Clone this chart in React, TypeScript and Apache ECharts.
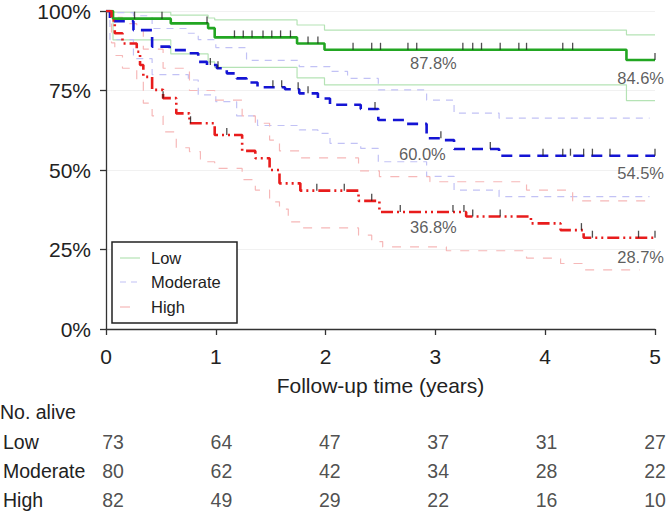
import React, { useEffect, useRef } from 'react';
import * as echarts from 'echarts';

// ---- Data ----
const years = [0, 1, 2, 3, 4, 5];
const groups = ['Low', 'Moderate', 'High'];
const atRiskLow = [73, 64, 47, 37, 31, 27];
const atRiskModerate = [80, 62, 42, 34, 28, 22];
const atRiskHigh = [82, 49, 29, 22, 16, 10];

// Kaplan-Meier steps [time (years), survival %]
const lowSurv = [[0, 100], [0.064, 97.6], [0.59, 96.1], [0.93, 94.6], [0.99, 91.7], [1.74, 89.8], [1.99, 87.8], [4.74, 84.6], [5, 84.6]];
const lowUpper = [[0, 100], [0.064, 99.6], [0.59, 98.7], [0.93, 97.8], [0.99, 97.2], [1.74, 95.6], [1.99, 94], [4.74, 92.5], [5, 92.5]];
const lowLower = [[0, 100], [0.064, 90.9], [0.59, 86.5], [0.93, 84], [0.99, 82.3], [1.74, 79], [1.99, 76.8], [4.74, 71.8], [5, 71.8]];

const modSurv = [[0, 100], [0.036, 96.8], [0.25, 94], [0.42, 88.8], [0.58, 87.7], [0.75, 86.7], [0.84, 84], [0.92, 83], [1.01, 82], [1.1, 80.4], [1.19, 78.8], [1.28, 77.5], [1.38, 76], [1.63, 75.4], [1.76, 74.1], [1.93, 72.5], [2.04, 70.5], [2.32, 69.2], [2.48, 65.7], [2.72, 64.5], [2.92, 60.0], [3.07, 59.4], [3.17, 56.6], [3.58, 54.5], [5, 54.5]];
const modUpper = [[0, 100], [0.036, 99.5], [0.25, 98.5], [0.42, 94.5], [0.75, 93], [0.84, 91], [1.0, 88.5], [1.28, 84.5], [1.76, 82.5], [2.04, 81], [2.2, 78.8], [2.48, 75.2], [2.92, 72], [3.17, 67.9], [3.58, 66.3], [4.95, 66.3]];
const modLower = [[0, 100], [0.036, 91], [0.25, 85], [0.42, 80], [0.75, 78.3], [0.84, 73.6], [1.0, 71.5], [1.19, 67], [1.38, 64], [1.76, 62.6], [1.93, 61.5], [2.04, 58.4], [2.32, 56.8], [2.48, 52.6], [2.92, 48], [3.17, 43.7], [3.58, 41.6], [4.95, 41.6]];

const highSurv = [[0, 100], [0.05, 97], [0.08, 93], [0.15, 89.8], [0.28, 87.2], [0.31, 83], [0.34, 79.3], [0.42, 75.2], [0.52, 72.6], [0.64, 67.8], [0.76, 64.7], [0.99, 61], [1.24, 56], [1.36, 53.7], [1.49, 50], [1.58, 45.8], [1.77, 43.5], [2.3, 40.3], [2.49, 36.8], [3.28, 35.4], [3.87, 33.2], [4.14, 31.1], [4.35, 28.7], [5, 28.7]];
const highUpper = [[0, 100], [0.05, 99.5], [0.08, 98], [0.15, 96], [0.28, 94], [0.34, 88], [0.52, 82], [0.76, 75], [0.99, 72], [1.24, 67], [1.36, 64.7], [1.49, 59.4], [1.58, 56], [1.77, 53.8], [2.3, 49.7], [2.49, 47.9], [2.95, 46.3], [3.83, 43.7], [4.25, 40.3], [4.95, 40.3]];
const highLower = [[0, 100], [0.05, 90], [0.08, 86], [0.15, 82], [0.28, 78], [0.34, 71], [0.42, 67], [0.52, 62], [0.64, 57], [0.76, 55.8], [0.86, 52.6], [0.99, 50.5], [1.24, 47], [1.36, 43.7], [1.49, 40], [1.58, 37.7], [1.66, 33.7], [1.77, 31.8], [2.3, 29.5], [2.42, 27.5], [2.52, 25.8], [3.1, 24.6], [3.83, 22.3], [4.14, 20.6], [4.35, 18.6], [4.86, 18.6]];

// Censoring times (years)
const censorLow = [0.26, 0.51, 0.92, 1.17, 1.25, 1.33, 1.43, 1.51, 1.59, 1.68, 1.84, 1.93, 2.25, 2.42, 2.5, 2.75, 2.83, 3.25, 3.34, 3.42, 3.59, 3.76, 3.83, 4.16, 4.25, 5.0];
const censorModerate = [0.95, 1.02, 1.52, 1.6, 1.75, 1.84, 2.45, 3.05, 3.5, 3.98, 4.16, 4.23, 4.35, 4.43, 4.59, 5.0];
const censorHigh = [0.52, 0.77, 1.1, 1.92, 2.17, 2.42, 2.68, 3.16, 3.26, 3.34, 3.59, 4.33, 4.43, 4.85, 5.0];

// Annotated survival at 3 and 5 years (%)
const survAt3 = [87.8, 60.0, 36.8];
const survAt5 = [84.6, 54.5, 28.7];

const FONT = 'Liberation Sans, Arial, Helvetica, sans-serif';
const TXT = '#222';

function stepAt(curve: number[][], t: number) {
  let v = curve[0][1];
  for (const p of curve) {
    if (p[0] <= t + 1e-9) v = p[1];
  }
  return v;
}

export default function App() {
  const ref = useRef<HTMLDivElement>(null);
  useEffect(() => {
    if (!ref.current) return;
    const chart = echarts.init(ref.current, null, { renderer: 'svg' });

    const mainColors = ['#22a622', '#1414d4', '#e81c1c'];
    const ciColors = ['#b5e3b5', '#c2c2f5', '#f6b8b8'];
    const mains = [lowSurv, modSurv, highSurv];
    const uppers = [lowUpper, modUpper, highUpper];
    const lowers = [lowLower, modLower, highLower];
    const censors = [censorLow, censorModerate, censorHigh];
    const mainDash: any[] = ['solid', [11, 7], [12, 4, 2, 4, 2, 4]];
    const ciDash: any[] = ['solid', [7, 6], [9, 9]];

    const series: any[] = [];
    groups.forEach((g, i) => {
      [uppers[i], lowers[i]].forEach((c, k) => {
        series.push({
          name: g + (k === 0 ? ' upper' : ' lower'),
          type: 'line', step: 'end', data: c, showSymbol: false, symbol: 'none',
          lineStyle: { color: ciColors[i], width: 1.2, type: ciDash[i] },
          z: 1, silent: true,
        });
      });
    });
    groups.forEach((g, i) => {
      series.push({
        name: g, type: 'line', step: 'end', data: mains[i], showSymbol: false, symbol: 'none',
        lineStyle: { color: mainColors[i], width: 2.6, type: mainDash[i] },
        z: 3, silent: true,
      });
    });
    groups.forEach((g, i) => {
      series.push({
        name: g + ' censored', type: 'scatter',
        data: censors[i].map((t) => [t, stepAt(mains[i], t)]),
        symbol: 'rect', symbolSize: [1.3, 7], symbolOffset: [0, -3.5],
        itemStyle: { color: '#222' }, z: 4, silent: true,
      });
    });
    const off3 = [[-2, 13], [-13, 16], [-2, 15]];
    const off5 = [[9, 18], [9, 17], [9, 19]];
    groups.forEach((g, i) => {
      series.push({
        name: g + ' annot', type: 'scatter', symbolSize: 1,
        itemStyle: { color: 'rgba(0,0,0,0)' }, z: 5, silent: true,
        data: [
          { value: [3, survAt3[i]], label: { align: 'center', offset: off3[i] } },
          { value: [5, survAt5[i]], label: { align: 'right', offset: off5[i] } },
        ],
        label: {
          show: true, position: 'inside', verticalAlign: 'middle',
          formatter: (p: any) => p.value[1].toFixed(1) + '%',
          fontSize: 16.5, color: '#333', fontFamily: FONT,
        },
      });
    });
    const risk = [atRiskLow, atRiskModerate, atRiskHigh];
    series.push({
      name: 'No. alive', type: 'scatter', xAxisIndex: 1, yAxisIndex: 1, symbolSize: 1,
      itemStyle: { color: 'rgba(0,0,0,0)' }, silent: true,
      data: groups.flatMap((g, i) => years.map((y, j) => [y, g, risk[i][j]])),
      label: {
        show: true, position: 'inside', align: 'center', verticalAlign: 'middle',
        formatter: (p: any) => String(p.value[2]),
        fontSize: 19.5, color: TXT, fontFamily: FONT,
      },
    });

    const axisLine = { show: true, lineStyle: { color: '#333', width: 1.3 } };
    const legendRows = [
      { y: 258, color: ciColors[0], dash: null as any },
      { y: 282, color: ciColors[1], dash: [6, 5] },
      { y: 307, color: ciColors[2], dash: [10, 14] },
    ];

    chart.setOption({
      animation: false,
      backgroundColor: '#fff',
      textStyle: { fontFamily: FONT },
      grid: [
        { left: 106, right: 13, top: 11, bottom: 189 },
        { left: 106, right: 13, top: 427, height: 87 },
      ],
      xAxis: [
        {
          type: 'value', min: 0, max: 5, interval: 1, gridIndex: 0,
          axisLine, axisTick: { show: true, length: 6, lineStyle: { color: '#333', width: 1.3 } },
          axisLabel: { fontSize: 21, color: TXT, margin: 17, fontFamily: FONT },
          splitLine: { show: false },
          name: 'Follow-up time (years)', nameLocation: 'middle', nameGap: 46,
          nameTextStyle: { fontSize: 21, color: TXT, fontFamily: FONT },
        },
        { type: 'value', min: 0, max: 5, gridIndex: 1, show: false },
      ],
      yAxis: [
        {
          type: 'value', min: 0, max: 100, interval: 25, gridIndex: 0,
          axisLine, axisTick: { show: true, length: 6, lineStyle: { color: '#333', width: 1.3 } },
          axisLabel: { formatter: '{value}%', fontSize: 21, color: TXT, margin: 15, fontFamily: FONT },
          splitLine: { show: true, lineStyle: { color: '#f1f1f1', width: 1 } },
        },
        {
          type: 'category', data: groups, inverse: true, gridIndex: 1,
          axisLine: { show: false }, axisTick: { show: false }, splitLine: { show: false },
          axisLabel: { align: 'left', margin: 110, fontSize: 19.5, color: TXT, fontFamily: FONT },
        },
      ],
      graphic: [
        { type: 'text', left: 0, top: 402, style: { text: 'No. alive', fontSize: 19.5, fill: TXT, fontFamily: FONT } },
        {
          type: 'rect', shape: { x: 112, y: 242, width: 125, height: 81 },
          style: { fill: '#fff', stroke: '#222', lineWidth: 1.5 }, z: 10,
        },
        ...legendRows.map((r) => ({
          type: 'line', shape: { x1: 120, y1: r.y, x2: 140, y2: r.y },
          style: { stroke: r.color, lineWidth: 1.2, lineDash: r.dash }, z: 11,
        })),
        ...groups.map((g, i) => ({
          type: 'text', x: 151, y: legendRows[i].y, z: 11,
          style: { text: g, fontSize: 16.5, fill: TXT, fontFamily: FONT, verticalAlign: 'middle' },
        })),
      ],
      series,
    });
    return () => chart.dispose();
  }, []);
  return <div ref={ref} style={{ position: 'absolute', left: 0, top: 0, width: 668, height: 518 }} />;
}
